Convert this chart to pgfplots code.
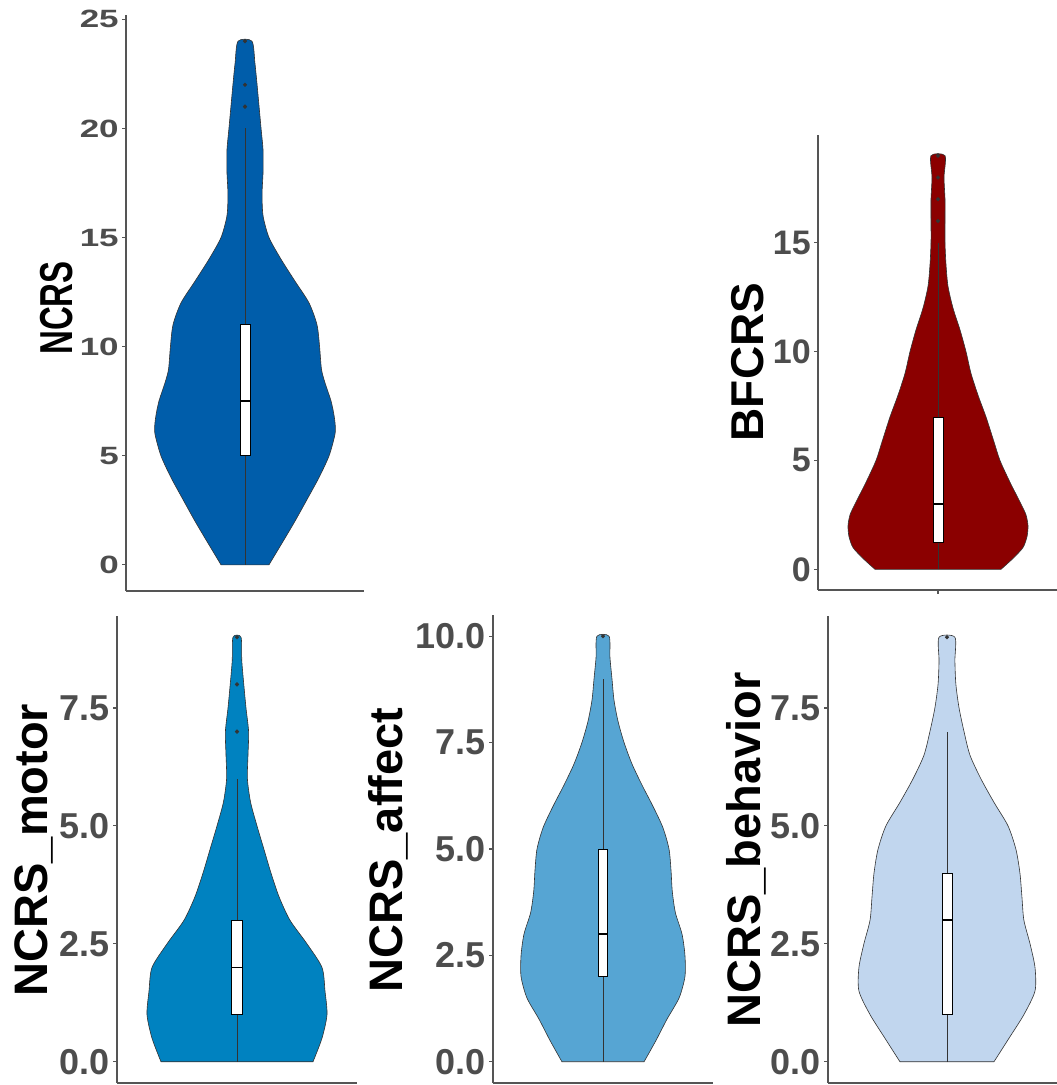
\documentclass[border=0pt]{standalone}
\usepackage{fontspec}
\setmainfont{Liberation Sans}
\usepackage{pgfplots}
\pgfplotsset{compat=1.18}
\definecolor{ncrsblue}{HTML}{005DAA}
\definecolor{bfred}{HTML}{8B0000}
\definecolor{motorblue}{HTML}{0082C0}
\definecolor{affblue}{HTML}{56A5D3}
\definecolor{behblue}{HTML}{C1D6EE}
\definecolor{axgray}{HTML}{555555}
\definecolor{tickgray}{HTML}{4D4D4D}
\definecolor{outl}{HTML}{333333}
\pgfplotsset{
  vio/.style={scale only axis, anchor=south west, axis lines*=left,
    xmin=-0.6, xmax=0.6, xtick=\empty, clip=false,
    tick align=outside, major tick length=4pt,
    axis line style={draw=axgray, line width=1.1pt},
    tick style={draw=axgray, line width=1.1pt},
    /pgf/number format/assume math mode=true,
    yticklabel style={text=tickgray, inner sep=0pt, xshift=-3pt,
      font=\fontsize{36}{36}\selectfont\bfseries},
  },
  violin/.style={draw=outl, line width=0.6pt, smooth, tension=0.45},
  whisk/.style={draw=outl, line width=0.8pt},
  bx/.style={fill=white, draw=black, line width=0.8pt},
  med/.style={draw=black, line width=1.6pt},
  outp/.style={only marks, mark=*, mark size=1.9pt, color=outl},
}
\begin{document}
\begin{tikzpicture}
\useasboundingbox (0,0) rectangle (1057pt,1085pt);
\fill[white] (0,0) rectangle (1057pt,1085pt);

% ---------- NCRS ----------
\begin{axis}[vio, at={(126pt,494pt)}, width=238pt, height=576pt,
  ymin=-1.2, ymax=25.2, ytick={0,5,10,15,20,25}, yticklabels={0,5,10,15,20,25},
  yticklabel style={font=\fontsize{25}{25}\selectfont\bfseries, xscale=1.4}]
\addplot[violin, fill=ncrsblue] coordinates {
(0.121,0) (0.187,1) (0.252,2) (0.313,3) (0.373,4) (0.424,5) (0.454,6) (0.454,6.5)
(0.446,7) (0.434,7.5) (0.416,8) (0.398,8.5) (0.385,9) (0.376,10) (0.363,11)
(0.323,12) (0.252,13) (0.182,14) (0.121,15) (0.091,16) (0.086,17) (0.091,18)
(0.091,19) (0.081,20) (0.071,21) (0.061,22) (0.050,23) (0.035,24)
(-0.035,24) (-0.050,23) (-0.061,22) (-0.071,21) (-0.081,20) (-0.091,19)
(-0.091,18) (-0.086,17) (-0.091,16) (-0.121,15) (-0.182,14) (-0.252,13)
(-0.323,12) (-0.363,11) (-0.376,10) (-0.385,9) (-0.398,8.5) (-0.416,8)
(-0.434,7.5) (-0.446,7) (-0.454,6.5) (-0.454,6) (-0.424,5) (-0.373,4)
(-0.313,3) (-0.252,2) (-0.187,1) (-0.121,0)} -- cycle;
\addplot[whisk] coordinates {(0,0) (0,20)};
\addplot[bx] coordinates {(-0.025,5) (0.025,5) (0.025,11) (-0.025,11)} -- cycle;
\addplot[med] coordinates {(-0.025,7.5) (0.025,7.5)};
\addplot[outp] coordinates {(0,21) (0,22) (0,24)};
\end{axis}

% ---------- BFCRS ----------
\begin{axis}[vio, at={(818pt,495pt)}, width=240pt, height=455pt,
  ymin=-0.95, ymax=19.95, ytick={0,5,10,15}, yticklabels={0,5,10,15},
  xtick={0}, xticklabels={}, x tick style={draw=axgray},
  yticklabel style={font=\fontsize{34}{34}\selectfont\bfseries}]
\addplot[violin, fill=bfred] coordinates {
(0.315,0) (0.375,0.5) (0.425,1) (0.445,1.5) (0.45,2) (0.44,2.5) (0.415,3)
(0.36,4) (0.31,5) (0.275,6) (0.24,7) (0.20,8) (0.165,9) (0.14,10) (0.11,11)
(0.075,12) (0.05,13) (0.04,14) (0.035,15) (0.035,16) (0.035,17) (0.03,18) (0.035,19)
(-0.035,19) (-0.03,18) (-0.035,17) (-0.035,16) (-0.035,15) (-0.04,14) (-0.05,13)
(-0.075,12) (-0.11,11) (-0.14,10) (-0.165,9) (-0.20,8) (-0.24,7) (-0.275,6)
(-0.31,5) (-0.36,4) (-0.415,3) (-0.44,2.5) (-0.45,2) (-0.445,1.5) (-0.425,1)
(-0.375,0.5) (-0.315,0)} -- cycle;
\addplot[whisk] coordinates {(0,0) (0,15)};
\addplot[bx] coordinates {(-0.025,1.25) (0.025,1.25) (0.025,7) (-0.025,7)} -- cycle;
\addplot[med] coordinates {(-0.025,3) (0.025,3)};
\addplot[outp] coordinates {(0,16) (0,17) (0,18) (0,19)};
\end{axis}

% ---------- NCRS_motor ----------
\begin{axis}[vio, at={(117pt,2pt)}, width=240pt, height=467pt,
  ymin=-0.45, ymax=9.45, ytick={0,2.5,5,7.5}, yticklabels={0.0,2.5,5.0,7.5}]
\addplot[violin, fill=motorblue] coordinates {
(0.38,0) (0.425,0.5) (0.45,1) (0.44,1.5) (0.425,2) (0.35,2.5) (0.265,3) (0.21,3.5)
(0.17,4) (0.135,4.5) (0.10,5) (0.068,5.5) (0.052,6) (0.055,6.5) (0.058,7)
(0.045,7.5) (0.034,8) (0.024,8.5) (0.02,9)
(-0.02,9) (-0.024,8.5) (-0.034,8) (-0.045,7.5) (-0.058,7) (-0.055,6.5) (-0.052,6)
(-0.068,5.5) (-0.10,5) (-0.135,4.5) (-0.17,4) (-0.21,3.5) (-0.265,3) (-0.35,2.5)
(-0.425,2) (-0.44,1.5) (-0.45,1) (-0.425,0.5) (-0.38,0)} -- cycle;
\addplot[whisk] coordinates {(0,0) (0,6)};
\addplot[bx] coordinates {(-0.027,1) (0.027,1) (0.027,3) (-0.027,3)} -- cycle;
\addplot[med] coordinates {(-0.027,2) (0.027,2)};
\addplot[outp] coordinates {(0,7) (0,8) (0,9)};
\end{axis}

% ---------- NCRS_affect ----------
\begin{axis}[vio, at={(493pt,2pt)}, width=220pt, height=468pt,
  ymin=-0.5, ymax=10.5, ytick={0,2.5,5,7.5,10}, yticklabels={0.0,2.5,5.0,7.5,10.0}]
\addplot[violin, fill=affblue] coordinates {
(0.224,0) (0.289,0.5) (0.349,1) (0.415,1.5) (0.447,2) (0.447,2.5) (0.431,3)
(0.395,3.5) (0.378,4) (0.371,4.5) (0.36,5) (0.327,5.5) (0.273,6) (0.213,6.5)
(0.158,7) (0.115,7.5) (0.082,8) (0.06,8.5) (0.049,9) (0.038,9.5) (0.033,10)
(-0.033,10) (-0.038,9.5) (-0.049,9) (-0.06,8.5) (-0.082,8) (-0.115,7.5)
(-0.158,7) (-0.213,6.5) (-0.273,6) (-0.327,5.5) (-0.36,5) (-0.371,4.5)
(-0.378,4) (-0.395,3.5) (-0.431,3) (-0.447,2.5) (-0.447,2) (-0.415,1.5)
(-0.349,1) (-0.289,0.5) (-0.224,0)} -- cycle;
\addplot[whisk] coordinates {(0,0) (0,9)};
\addplot[bx] coordinates {(-0.025,2) (0.025,2) (0.025,5) (-0.025,5)} -- cycle;
\addplot[med] coordinates {(-0.025,3) (0.025,3)};
\addplot[outp] coordinates {(0,10)};
\end{axis}

% ---------- NCRS_behavior ----------
\begin{axis}[vio, at={(828pt,2pt)}, width=229pt, height=467pt, xmax=0.555,
  ymin=-0.45, ymax=9.45, ytick={0,2.5,5,7.5}, yticklabels={0.0,2.5,5.0,7.5}]
\addplot[violin, fill=behblue] coordinates {
(0.237,0) (0.313,0.5) (0.388,1) (0.444,1.5) (0.444,2) (0.419,2.5) (0.388,3)
(0.378,3.5) (0.368,4) (0.348,4.5) (0.308,5) (0.237,5.5) (0.171,6) (0.116,6.5)
(0.086,7) (0.061,7.5) (0.045,8) (0.040,8.5) (0.040,9)
(-0.040,9) (-0.040,8.5) (-0.045,8) (-0.061,7.5) (-0.086,7) (-0.116,6.5)
(-0.171,6) (-0.237,5.5) (-0.308,5) (-0.348,4.5) (-0.368,4) (-0.378,3.5)
(-0.388,3) (-0.419,2.5) (-0.444,2) (-0.444,1.5) (-0.388,1) (-0.313,0.5)
(-0.237,0)} -- cycle;
\addplot[whisk] coordinates {(0,0) (0,7)};
\addplot[bx] coordinates {(-0.025,1) (0.025,1) (0.025,4) (-0.025,4)} -- cycle;
\addplot[med] coordinates {(-0.025,3) (0.025,3)};
\addplot[outp] coordinates {(0,9)};
\end{axis}

% ---------- axis titles ----------
\node[rotate=90, yscale=1.4, anchor=base, font=\fontsize{33}{33}\selectfont\bfseries] at (72pt,777pt) {NCRS};
\node[rotate=90, anchor=base, font=\fontsize{46}{46}\selectfont\bfseries] at (763pt,723pt) {BFCRS};
\node[rotate=90, anchor=base, font=\fontsize{47}{47}\selectfont\bfseries] at (47pt,235pt) {NCRS\_motor};
\node[rotate=90, anchor=base, font=\fontsize{47}{47}\selectfont\bfseries] at (402pt,235pt) {NCRS\_affect};
\node[rotate=90, anchor=base, font=\fontsize{47}{47}\selectfont\bfseries] at (760pt,235pt) {NCRS\_behavior};
\end{tikzpicture}
\end{document}
